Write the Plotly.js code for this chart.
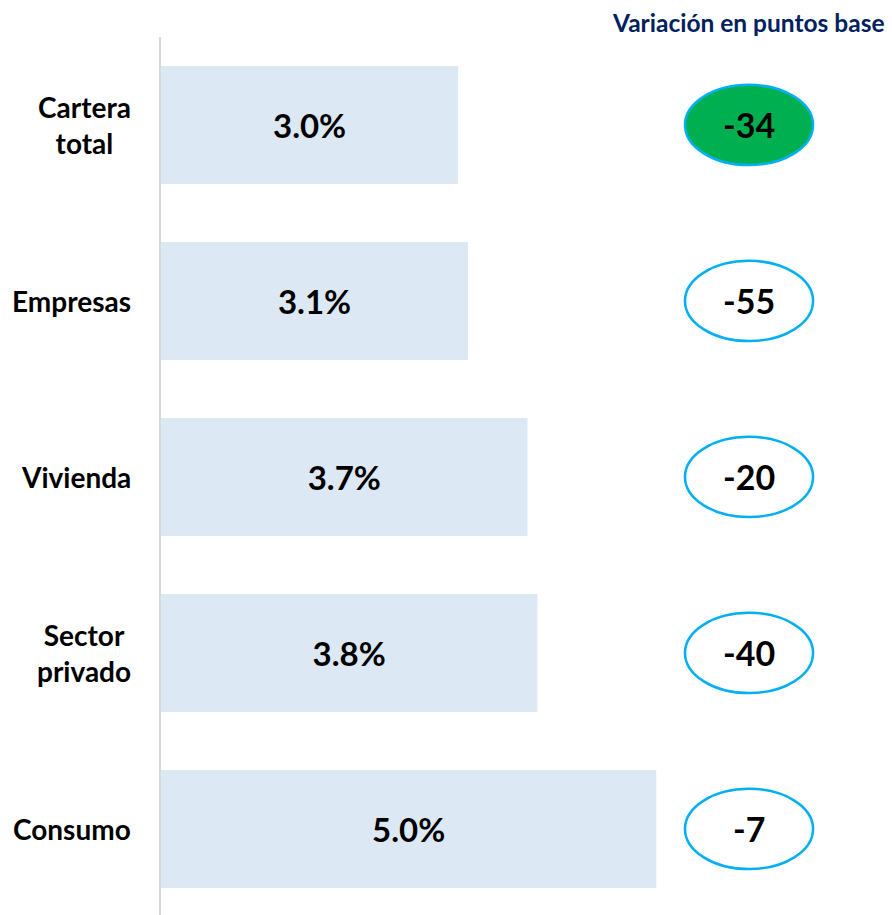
<!DOCTYPE html>
<html>
<head>
<meta charset="utf-8">
<script src="https://cdn.plot.ly/plotly-3.0.1.min.js"></script>
<style>html,body{margin:0;padding:0;background:#fff;}#chart{width:892px;height:915px;}</style>
</head>
<body>
<div id="chart"></div>
<script>
const categories = ['Cartera total', 'Empresas', 'Vivienda', 'Sector privado', 'Consumo'];
const categoryLabels = ['Cartera<br>total', 'Empresas', 'Vivienda', 'Sector<br>privado', 'Consumo'];
const values = [3.0, 3.1, 3.7, 3.8, 5.0];
const variation = [-34, -55, -20, -40, -7];
const highlighted = [true, false, false, false, false];
const sideTitle = 'Variación en puntos base';

const FONT = 'Lato, "Open Sans", sans-serif';

const trace = {
  type: 'bar',
  orientation: 'h',
  y: categories,
  x: values,
  width: 0.67,
  marker: {color: '#dce8f4', line: {width: 0}},
  texttemplate: '<b>%{x:.1f}%</b>',
  textposition: 'inside',
  insidetextanchor: 'middle',
  constraintext: 'none',
  textfont: {family: FONT, size: 33, color: '#000'},
  hoverinfo: 'skip'
};

const shapes = [];
const annotations = [];
const ellCx = 0.8044, ellHw = 0.0876, ellHh = 0.228;
categories.forEach((c, i) => {
  shapes.push({
    type: 'circle', xref: 'paper', yref: 'y',
    x0: ellCx - ellHw, x1: ellCx + ellHw,
    y0: i - ellHh, y1: i + ellHh,
    fillcolor: highlighted[i] ? '#00b050' : 'rgba(0,0,0,0)',
    line: {color: '#00b0f0', width: 2.5}
  });
  annotations.push({
    xref: 'paper', yref: 'y', x: ellCx, y: c,
    text: '<b>' + variation[i] + '</b>', showarrow: false,
    font: {family: FONT, size: 34, color: '#000'},
    xanchor: 'center', yanchor: 'middle'
  });
  annotations.push({
    xref: 'paper', yref: 'y', x: 0, y: c, xshift: -28,
    text: '<b>' + categoryLabels[i] + '</b>', showarrow: false,
    font: {family: FONT, size: 28, color: '#000'},
    xanchor: 'right', yanchor: 'middle', align: 'center'
  });
});
annotations.push({
  xref: 'paper', yref: 'paper', x: 0.993, y: 1.017,
  text: '<b>' + sideTitle + '</b>', showarrow: false,
  font: {family: FONT, size: 24.5, color: '#002060'},
  xanchor: 'right', yanchor: 'middle'
});

const layout = {
  width: 892, height: 915,
  margin: {l: 161, r: 0, t: 37, b: 0},
  paper_bgcolor: '#fff', plot_bgcolor: '#fff',
  showlegend: false,
  xaxis: {range: [0, 7.38], visible: false, fixedrange: true},
  yaxis: {
    autorange: false, range: [4.489, -0.5],
    showticklabels: false, ticks: '', showgrid: false, zeroline: false,
    showline: true, linecolor: '#d9d9d9', linewidth: 2, fixedrange: true
  },
  shapes: shapes,
  annotations: annotations,
  font: {family: FONT}
};

Plotly.newPlot('chart', [trace], layout, {displayModeBar: false, staticPlot: true});
</script>
</body>
</html>
